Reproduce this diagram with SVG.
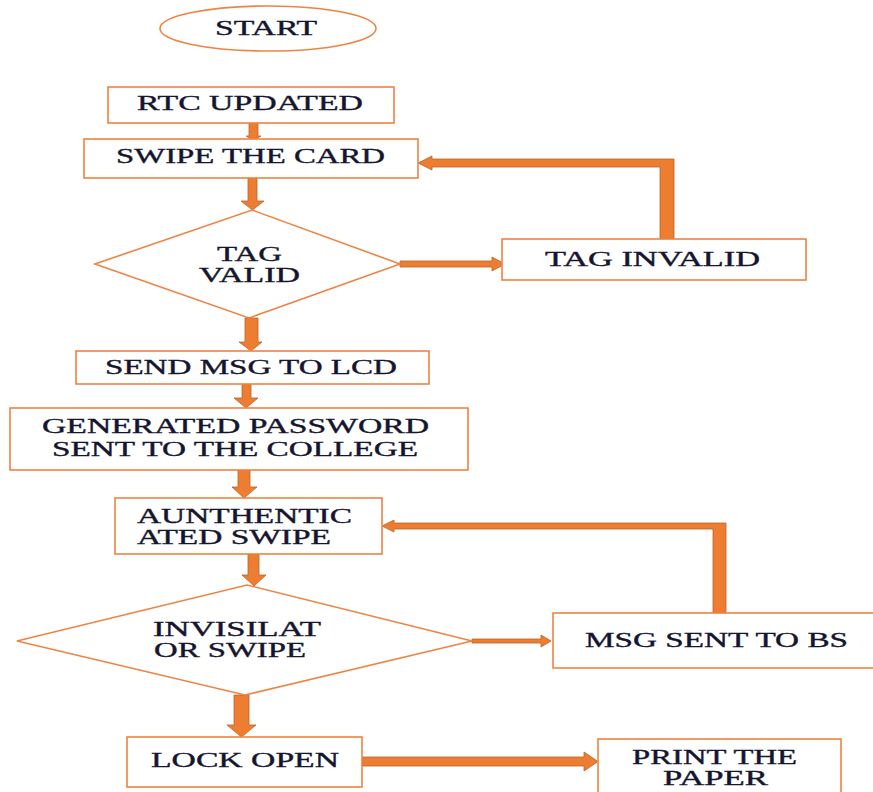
<svg xmlns="http://www.w3.org/2000/svg" width="873" height="792" viewBox="0 0 873 792">
<style>
.box{fill:#fff;stroke:#EE8443;stroke-width:1.6}
.arr{fill:#ED7D31;stroke:#B9622A;stroke-width:0.8}
.t{font-family:"Liberation Serif","Times New Roman",serif;font-size:20px;fill:#15152f;stroke:#15152f;stroke-width:0.35}
</style>
<rect width="873" height="792" fill="#fff"/>
<g id="connectors">
<polygon class="arr" points="249,123 258,123 258,136 261,136 253.5,140 246,136 249,136"/>
<polygon class="arr" points="248,178 257,178 257,201 264,201 252.5,210 241,201 248,201"/>
<polygon class="arr" points="245,318 258,318 258,342 262,342 251,351 239,342 245,342"/>
<polygon class="arr" points="242,384 251,384 251,398 258,398 246,408 234,398 242,398"/>
<polygon class="arr" points="238,470 250,470 250,487 257,487 244,498 232,487 238,487"/>
<polygon class="arr" points="248,554 259,554 259,575 266,575 254,586 242,575 248,575"/>
<polygon class="arr" points="234,695 249,695 249,725 256,725 241.5,737 227,725 234,725"/>
<polygon class="arr" points="400,261 492,261 492,257 505,264 492,271 492,267 400,267"/>
<polygon class="arr" points="660,239 660,167 432,167 432,170 418,163 432,156 432,159 674,159 674,239"/>
<polygon class="arr" points="472,639 541,639 541,635 551,641 541,647 541,643 472,643"/>
<polygon class="arr" points="713,613 713,529 394,529 394,532 382,526 394,520 394,523 726,523 726,613"/>
<polygon class="arr" points="362,757 584,757 584,752 598,761.5 584,771 584,766 362,766"/>
</g>
<g id="start">
<ellipse class="box" cx="268" cy="28.5" rx="108" ry="22.5"/>
<text class="t" x="215" y="35" textLength="102" lengthAdjust="spacingAndGlyphs">START</text>
</g>
<g id="rtc">
<rect class="box" x="108" y="87" width="286" height="36"/>
<text class="t" x="137" y="110" textLength="226" lengthAdjust="spacingAndGlyphs">RTC UPDATED</text>
</g>
<g id="swipe">
<rect class="box" x="84" y="139" width="334" height="39"/>
<text class="t" x="116" y="163" textLength="269" lengthAdjust="spacingAndGlyphs">SWIPE THE CARD</text>
</g>
<g id="tagvalid">
<polygon class="box" points="95,264 252,210 400,264 249,318"/>
<text class="t" x="217" y="261" textLength="65" lengthAdjust="spacingAndGlyphs">TAG</text>
<text class="t" x="199" y="282" textLength="101" lengthAdjust="spacingAndGlyphs">VALID</text>
</g>
<g id="taginvalid">
<rect class="box" x="502" y="239" width="304" height="41"/>
<text class="t" x="545" y="266" textLength="215" lengthAdjust="spacingAndGlyphs">TAG INVALID</text>
</g>
<g id="sendmsg">
<rect class="box" x="76" y="351" width="353" height="33"/>
<text class="t" x="105" y="374" textLength="292" lengthAdjust="spacingAndGlyphs">SEND MSG TO LCD</text>
</g>
<g id="generated">
<rect class="box" x="10" y="408" width="458" height="62"/>
<text class="t" x="42" y="433" textLength="387" lengthAdjust="spacingAndGlyphs">GENERATED PASSWORD</text>
<text class="t" x="52" y="456" textLength="366" lengthAdjust="spacingAndGlyphs">SENT TO THE COLLEGE</text>
</g>
<g id="authenticated">
<rect class="box" x="115" y="498" width="267" height="56"/>
<text class="t" x="137" y="523" textLength="215" lengthAdjust="spacingAndGlyphs">AUNTHENTIC</text>
<text class="t" x="137" y="544" textLength="194" lengthAdjust="spacingAndGlyphs">ATED SWIPE</text>
</g>
<g id="invigilator">
<polygon class="box" points="17,641 247,585 472,641 245,695"/>
<text class="t" x="153" y="636" textLength="168" lengthAdjust="spacingAndGlyphs">INVISILAT</text>
<text class="t" x="154" y="657" textLength="152" lengthAdjust="spacingAndGlyphs">OR SWIPE</text>
</g>
<g id="msgbs">
<rect class="box" x="553" y="613" width="330" height="55"/>
<text class="t" x="585" y="647" textLength="263" lengthAdjust="spacingAndGlyphs">MSG SENT TO BS</text>
</g>
<g id="lockopen">
<rect class="box" x="127" y="737" width="235" height="50"/>
<text class="t" x="151" y="767" textLength="188" lengthAdjust="spacingAndGlyphs">LOCK OPEN</text>
</g>
<g id="print">
<rect class="box" x="598" y="739" width="243" height="70"/>
<text class="t" x="632" y="764" textLength="165" lengthAdjust="spacingAndGlyphs">PRINT THE</text>
<text class="t" x="663" y="785" textLength="105" lengthAdjust="spacingAndGlyphs">PAPER</text>
</g>
</svg>
